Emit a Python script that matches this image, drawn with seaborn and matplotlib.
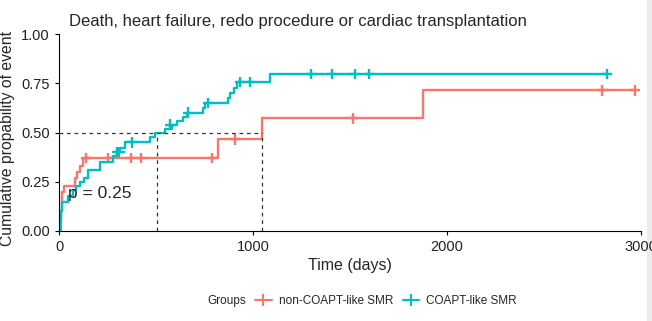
import numpy as np
import pandas as pd
import seaborn as sns
import matplotlib.pyplot as plt
from matplotlib.lines import Line2D
from matplotlib.patches import Rectangle

# step curves (time in days, cumulative probability of event)
red_time = [0, 8, 15, 25, 80, 95, 110, 125, 820, 1045, 1878, 2970]
red_cum = [0.0, 0.10, 0.20, 0.23, 0.27, 0.30, 0.33, 0.37, 0.465, 0.573, 0.715, 0.715]
teal_time = [0, 5, 10, 15, 45, 70, 90, 110, 130, 150, 210, 280, 300, 315, 340, 470, 495,
             545, 580, 610, 640, 660, 740, 755, 870, 880, 900, 920, 1090, 2830]
teal_cum = [0.0, 0.05, 0.10, 0.147, 0.18, 0.21, 0.23, 0.25, 0.27, 0.31, 0.35, 0.38, 0.40,
            0.42, 0.45, 0.475, 0.50, 0.52, 0.54, 0.56, 0.58, 0.60, 0.625, 0.65, 0.675,
            0.70, 0.725, 0.757, 0.797, 0.797]

# censored observations
red_cens_t = [140, 255, 370, 425, 790, 907, 1515, 2800, 2970]
red_cens_y = [0.37, 0.37, 0.37, 0.37, 0.37, 0.465, 0.573, 0.715, 0.715]
teal_cens_t = [300, 310, 375, 572, 665, 768, 933, 985, 1300, 1407, 1525, 1598, 2825]
teal_cens_y = [0.40, 0.40, 0.45, 0.54, 0.60, 0.65, 0.757, 0.757, 0.797, 0.797, 0.797, 0.797, 0.797]

groups = ['non-COAPT-like SMR', 'COAPT-like SMR']
colors = ['#F8766D', '#00BFC4']
medians = [1045, 505]

curves = pd.concat([
    pd.DataFrame({'time': red_time, 'cum': red_cum, 'group': groups[0]}),
    pd.DataFrame({'time': teal_time, 'cum': teal_cum, 'group': groups[1]}),
])
cens = pd.concat([
    pd.DataFrame({'time': red_cens_t, 'cum': red_cens_y, 'group': groups[0]}),
    pd.DataFrame({'time': teal_cens_t, 'cum': teal_cens_y, 'group': groups[1]}),
])

sns.set_style('ticks')
plt.rcParams['font.family'] = ['Liberation Sans', 'DejaVu Sans']

fig = plt.figure(figsize=(6.52, 3.21), dpi=100)
ax = fig.add_axes([0.0905, 0.2804, 0.8925, 0.6136])

sns.lineplot(data=curves, x='time', y='cum', hue='group', palette=colors,
             drawstyle='steps-post', estimator=None, linewidth=1.7, ax=ax, legend=False)
sns.scatterplot(data=cens, x='time', y='cum', hue='group', palette=colors,
                marker='+', s=60, linewidth=1.7, ax=ax, legend=False)

# median lines
ax.plot([0, max(medians)], [0.5, 0.5], ls=(0, (3, 3)), color='#333333', lw=0.9)
for m in medians:
    ax.plot([m, m], [0, 0.5], ls=(0, (3, 3)), color='#333333', lw=0.9)

ax.text(45, 0.19, 'p = 0.25', fontsize=12.5, va='center', ha='left')

ax.set_xlim(0, 3000)
ax.set_ylim(0, 1)
ax.set_xticks([0, 1000, 2000, 3000])
ax.set_yticks([0, 0.25, 0.5, 0.75, 1.0])
ax.set_yticklabels(['0.00', '0.25', '0.50', '0.75', '1.00'])
ax.tick_params(labelsize=10.5, length=3, width=0.8, colors='black', labelcolor='#222222')
ax.set_xlabel('Time (days)', fontsize=11.5, labelpad=3)
ax.set_ylabel('Cumulative propability of event', fontsize=11.3, labelpad=1)
ax.yaxis.set_label_coords(-0.075, 0.47)
ax.set_title('Death, heart failure, redo procedure or cardiac transplantation',
             fontsize=12, loc='left', x=0.018, pad=6)
sns.despine(ax=ax)
for sp in ['left', 'bottom']:
    ax.spines[sp].set_linewidth(0.8)
    ax.spines[sp].set_color('black')

handles = [Line2D([], [], linestyle='none')]
for c in colors:
    handles.append(Line2D([], [], color=c, marker='+', markersize=8, lw=1.5, mew=1.5))
fig.legend(handles, ['Groups'] + groups, loc='center', bbox_to_anchor=(0.537, 0.062),
           ncol=3, frameon=False, fontsize=8.5, handlelength=1.4, handletextpad=0.6,
           columnspacing=0.8)

fig.patches.append(Rectangle((647 / 652, 0), 5 / 652, 1, transform=fig.transFigure,
                             color='#e9eded', zorder=-1))

fig.savefig('out.png', dpi=100)
